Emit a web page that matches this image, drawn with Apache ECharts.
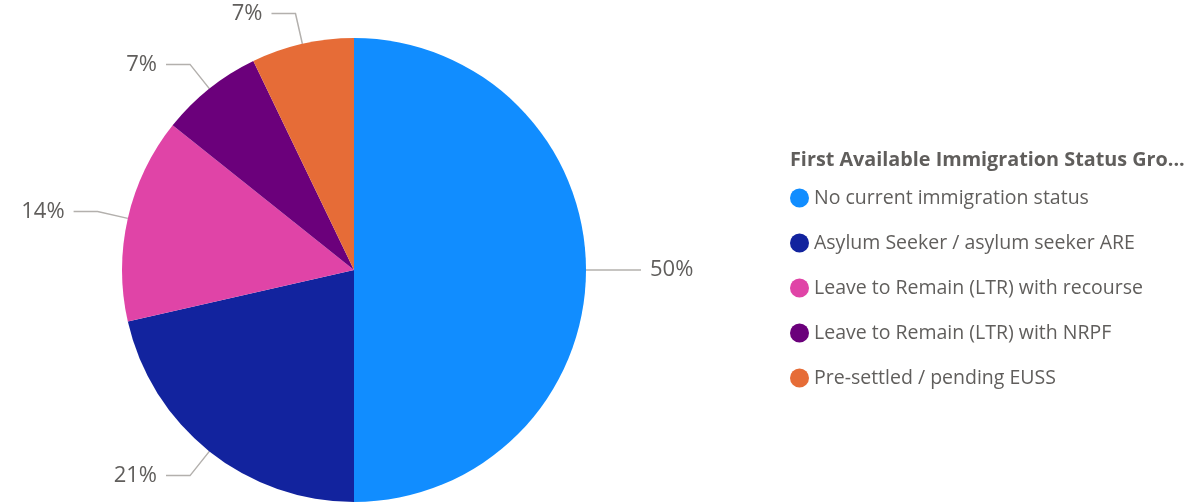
<!DOCTYPE html>
<html>
<head>
<meta charset="utf-8">
<script src="https://cdn.jsdelivr.net/npm/echarts@6/dist/echarts.min.js"></script>
<style>
html,body{margin:0;padding:0;background:#fff;}
#c{width:1204px;height:502px;}
</style>
</head>
<body>
<div id="c"></div>
<script>
const legendTitle = 'First Available Immigration Status Gro...';
const categories = [
  'No current immigration status',
  'Asylum Seeker / asylum seeker ARE',
  'Leave to Remain (LTR) with recourse',
  'Leave to Remain (LTR) with NRPF',
  'Pre-settled / pending EUSS'
];
const values = [7, 3, 2, 1, 1];
const colors = ['#118DFF', '#12239E', '#E044A7', '#6B007B', '#E66C37'];

const FONT = '"Open Sans", "Segoe UI", sans-serif';
const chart = echarts.init(document.getElementById('c'), null, {renderer: 'canvas'});
chart.setOption({
  animation: false,
  color: colors,
  title: {
    text: legendTitle,
    left: 790,
    top: 150,
    padding: 0,
    textStyle: {fontFamily: FONT, fontSize: 19.8, fontWeight: 'bold', color: '#605E5C'}
  },
  legend: {
    orient: 'vertical',
    left: 790,
    top: 188,
    padding: 0,
    icon: 'circle',
    itemWidth: 19,
    itemHeight: 19,
    itemGap: 25,
    data: categories,
    textStyle: {fontFamily: FONT, fontSize: 19.5, color: '#605E5C', lineHeight: 19}
  },
  series: [{
    type: 'pie',
    center: [354, 270],
    radius: [0, 232],
    startAngle: 90,
    clockwise: true,
    avoidLabelOverlap: false,
    data: categories.map((n, i) => ({name: n, value: values[i]})),
    label: {
      show: true,
      formatter: p => Math.round(p.percent) + '%',
      fontFamily: FONT,
      fontSize: 22,
      color: '#605E5C',
      distanceToLabelLine: 9
    },
    labelLine: {
      show: true,
      length: 31,
      length2: 24,
      lineStyle: {color: '#B3B0AD', width: 1.5}
    },
    emphasis: {disabled: true}
  }]
});
</script>
</body>
</html>
